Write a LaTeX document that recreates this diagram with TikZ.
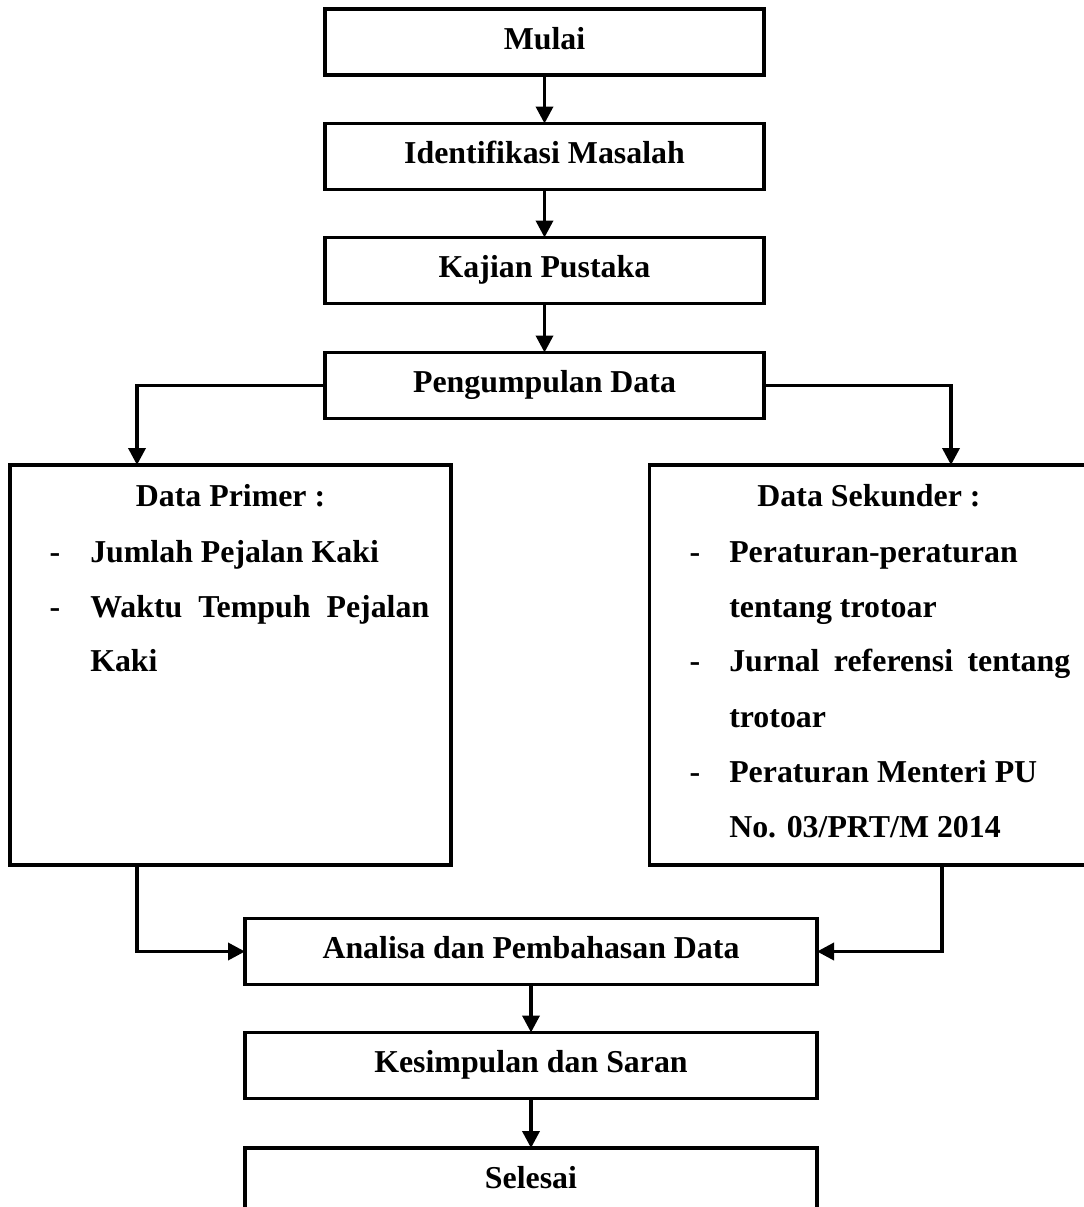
\documentclass[tikz,border=0pt]{standalone}
\usepackage{fontspec}
\setmainfont{Liberation Serif}
\usepackage{tikz}
\usetikzlibrary{arrows.meta,positioning,calc}

\newcommand{\teks}{\bfseries\fontsize{23.9}{28}\selectfont}

\tikzset{
  proses/.style={draw, line width=2.4pt, minimum width=329.25pt, minimum height=49.5pt,
    inner sep=0pt, outer sep=0pt, font=\teks, text height=16pt, text depth=5pt},
  kotak/.style={draw, line width=2.4pt, minimum width=330.75pt, minimum height=300pt,
    inner sep=0pt, outer sep=0pt},
  judul/.style={anchor=base, font=\teks, inner sep=0pt},
  butir/.style={anchor=base west, font=\teks, inner sep=0pt},
  strip/.style={anchor=base, font=\teks, inner sep=0pt},
  panah/.style={line width=2.7pt, -{Triangle[length=12.75pt,width=12.75pt]}}
}

\begin{document}
\begin{tikzpicture}[x=0.75pt,y=-0.75pt]
    \useasboundingbox (0,0) rectangle (1084,1207);

    % Alur atas
    \node[proses] (mulai) at (544.5,42) {Mulai};
    \node[proses] (identifikasi) at (544.5,156.5) {Identifikasi Masalah};
    \node[proses] (kajian) at (544.5,270.5) {Kajian Pustaka};
    \node[proses] (pengumpulan) at (544.5,385.5) {Pengumpulan Data};

    % Data primer dan sekunder
    \node[kotak] (primer) at (230.5,665) {};
    \node[kotak] (sekunder) at (870,665) {};

    \node[judul] (primerjudul) at (230.5,506) {Data Primer :};
    \foreach \i/\y/\t in {1/562/Jumlah Pejalan Kaki,
                          2/617/{\makebox[254.25pt][s]{Waktu Tempuh Pejalan}},
                          3/671/Kaki} {
        \node[butir] (primer\i) at (90,\y) {\t};
    }
    \foreach \i/\y in {1/562, 2/617} {
        \node[strip] (primerstrip\i) at (55,\y) {-};
    }

    \node[judul] (sekunderjudul) at (869,506) {Data Sekunder :};
    \foreach \i/\y/\t in {1/562/Peraturan-peraturan,
                          2/617/tentang trotoar,
                          3/671/{\makebox[255.75pt][s]{Jurnal referensi tentang}},
                          4/727/trotoar,
                          5/782/Peraturan Menteri PU,
                          6/837/{No. 03/PRT/M 2014}} {
        \node[butir] (sekunder\i) at (729,\y) {\t};
    }
    \foreach \i/\y in {1/562, 3/671, 5/782} {
        \node[strip] (sekunderstrip\i) at (695,\y) {-};
    }

    % Alur bawah
    \node[proses, minimum width=429pt] (analisa) at (531,951.5) {Analisa dan Pembahasan Data};
    \node[proses, minimum width=429pt] (kesimpulan) at (531,1065.5) {Kesimpulan dan Saran};
    \node[proses, minimum width=429pt] (selesai) at (531,1181) {Selesai};

    % Panah
    \foreach \a/\b in {mulai/identifikasi, identifikasi/kajian, kajian/pengumpulan,
                       analisa/kesimpulan, kesimpulan/selesai} {
        \draw[panah] (\a) -- (\b);
    }

    \coordinate (cabkiri) at (137,465);
    \coordinate (cabkanan) at (951,465);
    \draw[panah] (pengumpulan.west) -| (cabkiri);
    \draw[panah] (pengumpulan.east) -| (cabkanan);

    \coordinate (gabkiri) at (137,865);
    \coordinate (gabkanan) at (942,865);
    \draw[panah] (gabkiri) |- (analisa.west);
    \draw[panah] (gabkanan) |- (analisa.east);
\end{tikzpicture}
\end{document}
